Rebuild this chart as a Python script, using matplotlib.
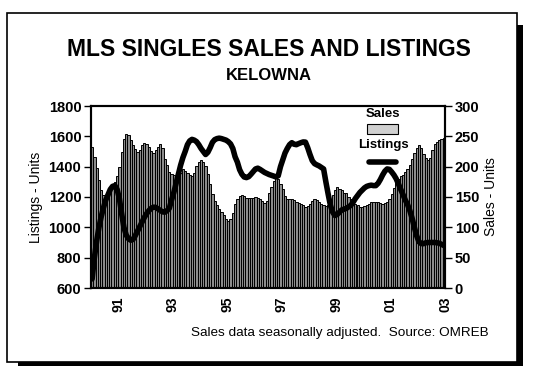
import numpy as np
import matplotlib.pyplot as plt
from matplotlib.patches import Rectangle
from matplotlib.lines import Line2D

plt.rcParams['font.family'] = ['Liberation Sans', 'DejaVu Sans']

# monthly figures, Jan 1990 - Dec 2002
sales = [
    233, 216, 197, 178, 162, 153, 151, 153, 159, 167, 175, 185,
    200, 225, 245, 254, 252, 244, 236, 229, 225, 228, 235, 239,
    237, 233, 226, 223, 227, 233, 237, 231, 212, 202, 192, 188,
    186, 183, 184, 190, 196, 193, 190, 186, 184, 190, 201, 208,
    211, 208, 201, 188, 172, 155, 143, 136, 131, 126, 120, 114,
    110, 113, 123, 138, 147, 151, 153, 151, 148, 148, 148, 149,
    150, 148, 146, 143, 140, 143, 156, 166, 176, 181, 179, 172,
    163, 152, 146, 146, 147, 145, 142, 140, 139, 137, 134, 135,
    139, 143, 146, 145, 141, 139, 137, 135, 137, 143, 154, 162,
    166, 164, 162, 157, 156, 150, 146, 142, 139, 136, 134, 134,
    135, 137, 139, 141, 142, 142, 141, 140, 139, 140, 142, 146,
    155, 165, 174, 180, 184, 187, 191, 196, 203, 212, 222, 230,
    236, 230, 221, 214, 211, 215, 228, 237, 241, 244, 246, 247,
]

listings = [
    660, 800, 910, 1000, 1070, 1130, 1180, 1215, 1250, 1270, 1275, 1250,
    1190, 1090, 1000, 950, 925, 915, 920, 945, 975, 1005, 1035, 1065,
    1090, 1110, 1125, 1133, 1132, 1122, 1112, 1102, 1100, 1110, 1125, 1180,
    1230, 1290, 1350, 1410, 1460, 1500, 1545, 1570, 1580, 1575, 1565, 1545,
    1520, 1500, 1480, 1495, 1525, 1560, 1578, 1585, 1588, 1585, 1580, 1575,
    1565, 1550, 1520, 1465, 1430, 1380, 1350, 1332, 1328, 1334, 1350, 1368,
    1385, 1390, 1382, 1372, 1362, 1355, 1348, 1343, 1338, 1332, 1340, 1400,
    1445, 1490, 1520, 1545, 1558, 1548, 1545, 1552, 1558, 1563, 1562, 1525,
    1480, 1440, 1420, 1412, 1405, 1395, 1385, 1300, 1220, 1145, 1100, 1078,
    1085, 1100, 1115, 1120, 1125, 1135, 1145, 1165, 1190, 1210, 1230, 1245,
    1260, 1270, 1275, 1278, 1275, 1275, 1290, 1315, 1345, 1370, 1385, 1382,
    1365, 1345, 1320, 1285, 1250, 1215, 1180, 1150, 1110, 1060, 1000, 945,
    905, 893, 892, 898, 900, 900, 900, 900, 898, 895, 888, 880,
]

year_ticks = [1991, 1993, 1995, 1997, 1999, 2001, 2003]
year_labels = ['91', '93', '95', '97', '99', '01', '03']

months = 1990 + (np.arange(len(sales)) + 0.5) / 12

W, H = 537, 366
fig = plt.figure(figsize=(W / 100, H / 100), dpi=100)

# page frame with drop shadow, kept behind the axes
fig.patches.append(Rectangle((18 / W, -0.01), (523 - 18) / W, (366 - 25) / H + 0.01,
                             transform=fig.transFigure, facecolor='black',
                             edgecolor='none', zorder=-2))
fig.patches.append(Rectangle((7 / W, (H - 362) / H), (517 - 7) / W, (362 - 13) / H,
                             transform=fig.transFigure, facecolor='white',
                             edgecolor='black', linewidth=1.2, zorder=-1))

# bars (sales) on the base axes, line (listings) on the twin so it sits on top
ax = fig.add_axes([91 / W, (H - 288) / H, 354 / W, 182 / H])
ax.bar(months, sales, width=1 / 12, color='#8c8c8c', edgecolor='black', linewidth=0.7)
ax.set_xlim(1990, 2003)
ax.set_ylim(0, 300)
ax.set_yticks(range(0, 301, 50))

ax2 = ax.twinx()
ax2.plot(months, listings, color='black', linewidth=4, solid_capstyle='round')
ax2.set_ylim(600, 1800)
ax2.set_yticks(range(600, 1801, 200))

ax.yaxis.tick_right()
ax.yaxis.set_label_position('right')
ax2.yaxis.tick_left()
ax2.yaxis.set_label_position('left')

ax.set_xticks(year_ticks, year_labels, rotation=90, fontweight='bold', fontsize=10)
ax.tick_params(axis='x', length=0, pad=6)
for a in (ax, ax2):
    a.tick_params(axis='y', length=5, width=1, labelsize=10.5, pad=2)
    for lab in a.get_yticklabels():
        lab.set_fontweight('bold')
    for s in a.spines.values():
        s.set_linewidth(1.5)

ax2.set_ylabel('Listings - Units', fontsize=10, labelpad=4)
ax.set_ylabel('Sales - Units', fontsize=10, labelpad=3)

# legend: labels stacked above their keys
ax2.text(0.825, 0.955, 'Sales', transform=ax2.transAxes, ha='center', va='center',
         fontsize=9.5, fontweight='bold')
ax2.add_patch(Rectangle((0.78, 0.846), 0.087, 0.055, transform=ax2.transAxes,
                        facecolor='#d0d0d0', edgecolor='black', linewidth=0.8))
ax2.text(0.825, 0.786, 'Listings', transform=ax2.transAxes, ha='center', va='center',
         fontsize=9.5, fontweight='bold')
ax2.add_line(Line2D([0.785, 0.862], [0.692, 0.692], transform=ax2.transAxes,
                    color='black', linewidth=4, solid_capstyle='round'))

fig.text(0.5, (H - 50) / H, 'MLS SINGLES SALES AND LISTINGS', ha='center', va='center',
         fontsize=16.5, fontweight='bold')
fig.text(0.5, (H - 76) / H, 'KELOWNA', ha='center', va='center',
         fontsize=12, fontweight='bold')
fig.text(489 / W, (H - 333) / H, 'Sales data seasonally adjusted.  Source: OMREB',
         ha='right', va='center', fontsize=9.7)

fig.savefig('out.png', dpi=100)
